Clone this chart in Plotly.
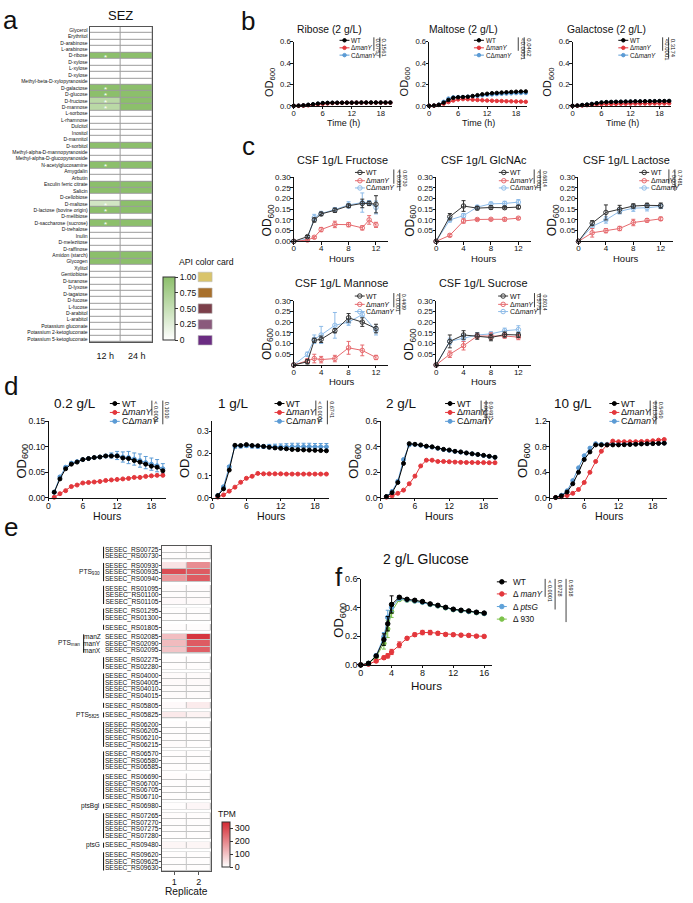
import plotly.graph_objects as go

W, H = 693, 903
FONT = "Liberation Sans, Arial, Helvetica, sans-serif"
INK = "#111111"

# ====================== DATA ======================
api_sugars = ["Glycerol", "Erythritol", "D-arabinose", "L-arabinose", "D-ribose", "D-xylose", "L-xylose",
              "D-xylose", "Methyl-beta-D-xylopyranoside", "D-galactose", "D-glucose", "D-fructose",
              "D-mannose", "L-sorbose", "L-rhamnose", "Dulcitol", "Inositol", "D-mannitol", "D-sorbitol",
              "Methyl-alpha-D-mannopyranoside", "Methyl-alpha-D-glucopyranoside", "N-acetylglucosamine",
              "Amygdalin", "Arbutin", "Esculin ferric citrate", "Salicin", "D-cellobiose", "D-maltose",
              "D-lactose (bovine origin)", "D-melibiose", "D-saccharose (sucrose)", "D-trehalose", "Inulin",
              "D-melezitose", "D-raffinose", "Amidon (starch)", "Glycogen", "Xylitol", "Gentiobiose",
              "D-turanose", "D-lyxose", "D-tagatose", "D-fucose", "L-fucose", "D-arabitol", "L-arabitol",
              "Potassium gluconate", "Potassium 2-ketogluconate", "Potassium 5-ketogluconate"]
api_times = ["12 h", "24 h"]
api_12h = [0, 0, 0, 0, 1, 0, 0, 0, 0, 1,
           1, 0.6, 0.6, 0, 0, 0, 0, 0, 1, 0,
           0, 1, 0, 0, 1, 1, 0, 0.4, 1, 0,
           1, 0, 0, 0, 0, 1, 1, 0, 0, 0,
           0, 0, 0, 0, 0, 0, 0, 0, 0]
api_24h = [0, 0, 0, 0, 1, 0, 0, 0, 0, 1,
           1, 1, 1, 0, 0, 0, 0, 0, 1, 0,
           0, 1, 0, 0, 1, 1, 0, 1, 1, 0,
           1, 0, 0, 0, 0, 1, 1, 0, 0, 0,
           0, 0, 0, 0, 0, 0, 0, 0, 0]
api_star_12h = [0, 0, 0, 0, 1, 0, 0, 0, 0, 1,
                1, 1, 1, 0, 0, 0, 0, 0, 0, 0,
                0, 1, 0, 0, 0, 0, 0, 1, 1, 0,
                1, 0, 0, 0, 0, 0, 0, 0, 0, 0,
                0, 0, 0, 0, 0, 0, 0, 0, 0]
api_card_values = [1.00, 0.75, 0.50, 0.25, 0]
api_card_labels = ["1.00", "0.75", "0.50", "0.25", "0"]
api_card_colors = ["#d9c46b", "#a8702c", "#7b3f4a", "#8a5a7c", "#6b2c82"]

b_time = list(range(0, 21))
ribose_wt = [0, 0.002, 0.005, 0.010, 0.015, 0.021, 0.026, 0.028, 0.029, 0.029, 0.030, 0.030, 0.030, 0.030,
             0.031, 0.031, 0.031, 0.031, 0.031, 0.031, 0.031]
ribose_dm = [0, 0.000, 0.002, 0.005, 0.009, 0.014, 0.019, 0.023, 0.026, 0.027, 0.028, 0.029, 0.029, 0.030,
             0.030, 0.030, 0.030, 0.030, 0.030, 0.030, 0.030]
ribose_cd = [0, 0.002, 0.004, 0.009, 0.014, 0.020, 0.025, 0.027, 0.028, 0.029, 0.029, 0.030, 0.030, 0.030,
             0.030, 0.031, 0.031, 0.031, 0.031, 0.031, 0.031]
maltose_wt = [0, 0.003, 0.010, 0.030, 0.055, 0.075, 0.080, 0.082, 0.085, 0.092, 0.100, 0.108, 0.113, 0.118,
              0.121, 0.124, 0.127, 0.130, 0.132, 0.134, 0.135]
maltose_dm = [0, 0.002, 0.008, 0.020, 0.035, 0.050, 0.060, 0.063, 0.062, 0.058, 0.055, 0.052, 0.050, 0.048,
              0.046, 0.045, 0.043, 0.042, 0.041, 0.040, 0.038]
maltose_cd = [0, 0.003, 0.012, 0.038, 0.068, 0.080, 0.082, 0.083, 0.085, 0.088, 0.093, 0.098, 0.103, 0.107,
              0.110, 0.113, 0.115, 0.117, 0.119, 0.120, 0.121]
galactose_wt = [0, 0.003, 0.008, 0.012, 0.018, 0.025, 0.032, 0.035, 0.037, 0.038, 0.039, 0.040, 0.041, 0.042,
                0.042, 0.043, 0.044, 0.044, 0.045, 0.045, 0.046]
galactose_dm = [0, 0.001, 0.003, 0.006, 0.009, 0.012, 0.015, 0.017, 0.018, 0.019, 0.020, 0.020, 0.021, 0.021,
                0.022, 0.022, 0.022, 0.023, 0.023, 0.023, 0.024]
galactose_cd = [0, 0.002, 0.007, 0.011, 0.017, 0.024, 0.030, 0.033, 0.035, 0.036, 0.037, 0.038, 0.039, 0.040,
                0.040, 0.041, 0.042, 0.042, 0.043, 0.043, 0.044]
b_titles = ["Ribose (2 g/L)", "Maltose (2 g/L)", "Galactose (2 g/L)"]
b_pvalues = [["0.0757", "0.1561"], ["<0.0001", "0.0462"], ["<0.0001", "0.3174"]]

c_time_a = [0, 2, 3, 4, 6, 8, 10, 11, 12]
c_time_b = [0, 2, 4, 6, 8, 10, 12]
c_time_c = [0, 2, 3, 4, 6, 8, 10, 12]
fru_wt = [0, 0.022, 0.100, 0.128, 0.145, 0.166, 0.177, 0.177, 0.173]
fru_dm = [0, 0.006, 0.019, 0.055, 0.079, 0.078, 0.063, 0.100, 0.077]
fru_cd = [0, 0.011, 0.111, 0.130, 0.148, 0.170, 0.181, 0.180, 0.158]
fru_wt_e = [0, 0.005, 0.010, 0.008, 0.010, 0.008, 0.020, 0.010, 0.040]
fru_dm_e = [0, 0.003, 0.005, 0.010, 0.015, 0.010, 0.010, 0.020, 0.012]
fru_cd_e = [0, 0.005, 0.015, 0.010, 0.010, 0.015, 0.045, 0.010, 0.030]
glc_wt = [0, 0.115, 0.165, 0.155, 0.158, 0.157, 0.160]
glc_dm = [0, 0.028, 0.095, 0.102, 0.103, 0.103, 0.108]
glc_cd = [0, 0.100, 0.120, 0.160, 0.175, 0.177, 0.183]
glc_wt_e = [0, 0.015, 0.025, 0.008, 0.008, 0.006, 0.008]
glc_dm_e = [0, 0.006, 0.010, 0.005, 0.005, 0.008, 0.005]
glc_cd_e = [0, 0.010, 0.010, 0.008, 0.008, 0.010, 0.012]
lac_wt = [0, 0.085, 0.135, 0.150, 0.165, 0.168, 0.167]
lac_dm = [0, 0.040, 0.050, 0.060, 0.088, 0.098, 0.105]
lac_cd = [0, 0.070, 0.100, 0.140, 0.155, 0.157, 0.163]
lac_wt_e = [0, 0.012, 0.035, 0.018, 0.010, 0.010, 0.012]
lac_dm_e = [0, 0.020, 0.010, 0.010, 0.015, 0.008, 0.008]
lac_cd_e = [0, 0.010, 0.015, 0.012, 0.015, 0.015, 0.010]
man_wt = [0, 0.015, 0.115, 0.120, 0.160, 0.220, 0.200, 0.170]
man_dm = [0, 0.020, 0.030, 0.025, 0.030, 0.080, 0.068, 0.035]
man_cd = [0, 0.050, 0.120, 0.140, 0.185, 0.200, 0.235, 0.160]
man_wt_e = [0, 0.010, 0.010, 0.015, 0.010, 0.020, 0.020, 0.020]
man_dm_e = [0, 0.010, 0.020, 0.015, 0.015, 0.030, 0.025, 0.010]
man_cd_e = [0, 0.010, 0.020, 0.040, 0.060, 0.015, 0.012, 0.020]
suc_wt = [0, 0.110, 0.140, 0.135, 0.128, 0.142, 0.140]
suc_dm = [0, 0.050, 0.090, 0.135, 0.135, 0.135, 0.130]
suc_cd = [0, 0.110, 0.125, 0.140, 0.145, 0.160, 0.165]
suc_wt_e = [0, 0.030, 0.020, 0.015, 0.015, 0.012, 0.012]
suc_dm_e = [0, 0.015, 0.020, 0.010, 0.015, 0.010, 0.012]
suc_cd_e = [0, 0.015, 0.015, 0.010, 0.010, 0.012, 0.018]
c_titles = ["CSF 1g/L Fructose", "CSF 1g/L GlcNAc", "CSF 1g/L Lactose", "CSF 1g/L Mannose", "CSF 1g/L Sucrose"]
c_pvalues = [["< 0.001", "0.9730"], ["< 0.001", "0.6814"], ["< 0.001", "0.7481"],
             ["< 0.001", "0.4409"], ["0.5775", "0.8014"]]

d_time = list(range(1, 21))
d02_wt = [0.011, 0.037, 0.057, 0.066, 0.070, 0.075, 0.077, 0.079, 0.080, 0.082, 0.082, 0.082, 0.078, 0.077,
          0.073, 0.070, 0.066, 0.062, 0.060, 0.053]
d02_dm = [0.001, 0.008, 0.014, 0.022, 0.025, 0.029, 0.030, 0.031, 0.032, 0.034, 0.035, 0.036, 0.037, 0.038,
          0.040, 0.040, 0.042, 0.043, 0.044, 0.044]
d02_cd = [0.011, 0.041, 0.060, 0.068, 0.071, 0.075, 0.077, 0.079, 0.080, 0.082, 0.083, 0.083, 0.080, 0.079,
          0.076, 0.073, 0.069, 0.066, 0.063, 0.057]
d02_cd_e = [0, 0.002, 0.002, 0.002, 0.002, 0.002, 0.002, 0.002, 0.002, 0.003, 0.005, 0.008, 0.010, 0.012,
            0.012, 0.013, 0.012, 0.012, 0.012, 0.010]
d1_wt = [0.010, 0.040, 0.125, 0.237, 0.236, 0.240, 0.236, 0.235, 0.232, 0.228, 0.225, 0.223, 0.221, 0.218,
         0.217, 0.216, 0.215, 0.214, 0.213, 0.212]
d1_dm = [0.003, 0.013, 0.030, 0.048, 0.070, 0.088, 0.097, 0.110, 0.108, 0.108, 0.108, 0.108, 0.107, 0.107,
         0.107, 0.107, 0.107, 0.107, 0.107, 0.107]
d1_cd = [0.010, 0.050, 0.140, 0.232, 0.233, 0.235, 0.233, 0.232, 0.231, 0.231, 0.230, 0.230, 0.230, 0.231,
         0.231, 0.231, 0.231, 0.230, 0.230, 0.230]
d1_cd_e = [0, 0.003, 0.005, 0.008, 0.008, 0.008, 0.008, 0.008, 0.008, 0.010, 0.012, 0.013, 0.014, 0.015,
           0.015, 0.015, 0.015, 0.015, 0.015, 0.015]
d2_wt = [0.010, 0.040, 0.120, 0.270, 0.425, 0.420, 0.415, 0.405, 0.400, 0.390, 0.380, 0.375, 0.365, 0.360,
         0.352, 0.345, 0.340, 0.333, 0.326, 0.318]
d2_dm = [0.005, 0.015, 0.035, 0.060, 0.110, 0.170, 0.250, 0.295, 0.295, 0.285, 0.285, 0.283, 0.280, 0.278,
         0.277, 0.277, 0.276, 0.276, 0.275, 0.275]
d2_cd = [0.010, 0.050, 0.130, 0.300, 0.415, 0.418, 0.412, 0.403, 0.398, 0.388, 0.379, 0.372, 0.364, 0.358,
         0.351, 0.345, 0.339, 0.332, 0.325, 0.318]
d10_wt = [0.005, 0.030, 0.090, 0.220, 0.400, 0.600, 0.720, 0.830, 0.830, 0.830, 0.830, 0.830, 0.833, 0.836,
          0.840, 0.845, 0.848, 0.850, 0.853, 0.856]
d10_dm = [0.003, 0.015, 0.035, 0.070, 0.130, 0.240, 0.400, 0.570, 0.730, 0.830, 0.890, 0.880, 0.880, 0.880,
          0.880, 0.883, 0.888, 0.895, 0.905, 0.915]
d10_cd = [0.005, 0.040, 0.110, 0.270, 0.470, 0.660, 0.780, 0.850, 0.840, 0.840, 0.840, 0.840, 0.842, 0.845,
          0.848, 0.850, 0.852, 0.855, 0.857, 0.860]
d_titles = ["0.2 g/L", "1 g/L", "2 g/L", "10 g/L"]
d_pvalues = [["< 0.0001", "0.1010"], ["< 0.0001", "0.6741"], ["0.0138", "0.9491"], ["0.0138", "0.5450"]]

e_genes = ["SESEC_RS00725", "SESEC_RS00730", "SESEC_RS00930", "SESEC_RS00935", "SESEC_RS00940",
           "SESEC_RS01095", "SESEC_RS01100", "SESEC_RS01105", "SESEC_RS01295", "SESEC_RS01300",
           "SESEC_RS01805", "SESEC_RS02085", "SESEC_RS02090", "SESEC_RS02095", "SESEC_RS02275",
           "SESEC_RS02280", "SESEC_RS04000", "SESEC_RS04005", "SESEC_RS04010", "SESEC_RS04015",
           "SESEC_RS05805", "SESEC_RS05825", "SESEC_RS06200", "SESEC_RS06205", "SESEC_RS06210",
           "SESEC_RS06215", "SESEC_RS06570", "SESEC_RS06580", "SESEC_RS06585", "SESEC_RS06690",
           "SESEC_RS06700", "SESEC_RS06705", "SESEC_RS06710", "SESEC_RS06980", "SESEC_RS07265",
           "SESEC_RS07270", "SESEC_RS07275", "SESEC_RS07280", "SESEC_RS09480", "SESEC_RS09620",
           "SESEC_RS09625", "SESEC_RS09630"]
e_group = [0, 0, 1, 1, 1, 2, 2, 2, 3, 3, 4, 5, 5, 5, 6, 6, 7, 7, 7, 7, 8, 9, 10, 10, 10, 10,
           11, 11, 11, 12, 12, 12, 12, 13, 14, 14, 14, 14, 15, 16, 16, 16]
e_rep1 = [4, 4, 45, 290, 170, 6, 5, 9, 4, 4, 5, 105, 110, 95, 4, 4, 7, 8, 6, 6, 9, 35, 4, 4, 4, 6,
          3, 3, 3, 3, 3, 3, 3, 4, 3, 3, 3, 3, 15, 4, 4, 4]
e_rep2 = [4, 4, 185, 265, 265, 6, 5, 8, 4, 4, 5, 325, 265, 260, 4, 4, 7, 8, 6, 6, 32, 20, 4, 4, 4, 4,
          3, 3, 3, 3, 3, 3, 3, 14, 3, 3, 3, 3, 15, 4, 4, 4]
e_replicates = [1, 2]
e_group_labels = {1: "PTS<sub>930</sub>", 5: "PTS<sub>man</sub>", 9: "PTS<sub>5825</sub>",
                  13: "ptsBgl", 15: "ptsG"}
e_gene_alias = {"SESEC_RS02085": "manZ", "SESEC_RS02090": "manY", "SESEC_RS02095": "manX"}

f_time = [0, 1, 2, 3, 3.5, 4, 5, 6, 7, 8, 9, 10, 11, 12, 13, 14, 15, 16]
f_wt = [0, 0.011, 0.062, 0.176, 0.286, 0.420, 0.470, 0.456, 0.449, 0.440, 0.424, 0.414, 0.400, 0.387,
        0.380, 0.375, 0.366, 0.360]
f_dm = [0, 0.005, 0.027, 0.050, 0.063, 0.090, 0.140, 0.185, 0.210, 0.225, 0.225, 0.220, 0.212, 0.210,
        0.207, 0.205, 0.200, 0.198]
f_ptsg = [0, 0.010, 0.065, 0.195, 0.330, 0.400, 0.462, 0.452, 0.445, 0.436, 0.421, 0.411, 0.398, 0.385,
          0.378, 0.372, 0.364, 0.358]
f_930 = [0, 0.010, 0.055, 0.150, 0.250, 0.370, 0.455, 0.450, 0.444, 0.435, 0.420, 0.410, 0.397, 0.384,
         0.377, 0.371, 0.363, 0.357]
f_wt_e = [0, 0.003, 0.010, 0.040, 0.050, 0.060, 0.010, 0.008, 0.008, 0.008, 0.008, 0.008, 0.008, 0.008,
          0.008, 0.008, 0.008, 0.008]
f_dm_e = [0, 0.003, 0.010, 0.012, 0.015, 0.018, 0.020, 0.010, 0.012, 0.015, 0.015, 0.012, 0.010, 0.010,
          0.010, 0.010, 0.008, 0.008]
f_ptsg_e = [0, 0.003, 0.010, 0.030, 0.050, 0.030, 0.010, 0.008, 0.008, 0.008, 0.008, 0.008, 0.008, 0.008,
            0.008, 0.008, 0.008, 0.008]
f_930_e = [0, 0.003, 0.010, 0.040, 0.060, 0.040, 0.010, 0.008, 0.008, 0.008, 0.008, 0.008, 0.008, 0.008,
           0.008, 0.008, 0.008, 0.008]
f_names = ["WT", "Δ <i>manY</i>", "Δ <i>ptsG</i>", "Δ 930"]
f_pvalues = ["< 0.0001", "0.9728", "0.5918"]

strain_names = ["WT", "Δ<i>manY</i>", "CΔ<i>manY</i>"]

# ====================== STYLE ======================
WT_C, DM_C, CD_C = "#000000", "#e3373c", "#5b9bd5"
C_WT, C_DM, C_CD = "#333333", "#e66a6e", "#8dbbe8"
F_PTSG, F_930 = "#5fa2d9", "#7cc24a"

fig = go.Figure()
layout_axes = {}
anns = []
shapes = []


def X(px):
    return px / W


def Y(py):
    return 1 - py / H


def axid(n):
    return ("x", "y") if n == 1 else (f"x{n}", f"y{n}")


def axkey(n):
    return ("xaxis", "yaxis") if n == 1 else (f"xaxis{n}", f"yaxis{n}")


def base_axis(fs=8, **kw):
    d = dict(showline=True, linecolor=INK, linewidth=1, ticks="outside", ticklen=3, tickwidth=1,
             tickcolor=INK, showgrid=False, zeroline=False, fixedrange=True,
             tickfont=dict(family=FONT, size=fs, color=INK))
    d.update(kw)
    return d


def ann(text, x, y, size, xanchor="center", yanchor="middle", angle=0, color=INK):
    anns.append(dict(text=text, x=X(x), y=Y(y), xref="paper", yref="paper", xanchor=xanchor,
                     yanchor=yanchor, showarrow=False, textangle=angle,
                     font=dict(family=FONT, size=size, color=color)))


def pline(x0, y0, x1, y1, color=INK, width=1):
    shapes.append(dict(type="line", xref="paper", yref="paper", x0=X(x0), y0=Y(y0), x1=X(x1), y1=Y(y1),
                       line=dict(color=color, width=width)))


def make_plot(n, left, right, top, bottom, xr, yr, xd, yd, yfmt, fs, yvals=None):
    xk, yk = axkey(n)
    xi, yi = axid(n)
    xa = base_axis(fs, domain=[X(left), X(right)], anchor=yi, range=xr, tickmode="linear", tick0=0,
                   dtick=xd, ticklen=2.5, ticklabelstandoff=-3)
    ya = base_axis(fs, domain=[Y(bottom), Y(top)], anchor=xi, range=yr, tickformat=yfmt, ticklen=2.5,
                   ticklabelstandoff=-2)
    if yvals is not None:
        ya.update(tickmode="array", tickvals=yvals, ticktext=[format(v, yfmt) for v in yvals])
    else:
        ya.update(tickmode="linear", tick0=0, dtick=yd)
    layout_axes[xk] = xa
    layout_axes[yk] = ya


def series(n, x, y, color, err=None, symbol="circle", size=4, lw=1):
    xi, yi = axid(n)
    kw = {}
    if err is not None:
        kw["error_y"] = dict(type="data", array=err, color=color, thickness=1, width=2)
    fig.add_trace(go.Scatter(
        x=x, y=y, xaxis=xi, yaxis=yi, mode="lines+markers",
        line=dict(color=color, width=lw),
        marker=dict(color=color, size=size, symbol=symbol, line=dict(color=color, width=1)),
        cliponaxis=False, showlegend=False, hoverinfo="skip", **kw))


OV = 16


def legend_block(names, colors, sym_x, text_x, rows, fs, symbol="circle", msize=4,
                 pvals=(), p_x=(), pfs=5.5):
    xi, yi = axid(OV)
    for name, col, ry in zip(names, colors, rows):
        fig.add_trace(go.Scatter(
            x=[sym_x - 5, sym_x + 5], y=[ry, ry], xaxis=xi, yaxis=yi, mode="lines",
            line=dict(color=col, width=1), showlegend=False, hoverinfo="skip"))
        fig.add_trace(go.Scatter(
            x=[sym_x], y=[ry], xaxis=xi, yaxis=yi, mode="markers",
            marker=dict(color=col, size=msize, symbol=symbol, line=dict(color=col, width=1)),
            showlegend=False, hoverinfo="skip"))
        ann(name, text_x, ry, fs, xanchor="left")
    for i, (pv, px_) in enumerate(zip(pvals, p_x)):
        pline(px_ - 4.5, rows[0] - 3, px_ - 4.5, rows[i + 1] + 3, INK, 0.8)
        ann(pv, px_, rows[0] - 4, pfs, yanchor="top", angle=90)


# ====================== PANEL a ======================
na = len(api_sugars)
rows_idx = list(range(na))
fig.add_trace(go.Heatmap(
    z=[[a, b] for a, b in zip(api_12h, api_24h)], x=[0, 1], y=rows_idx, xaxis="x", yaxis="y",
    zmin=0, zmax=1, colorscale=[[0, "#ffffff"], [1, "#8cbf6b"]], xgap=1, ygap=1, hoverinfo="skip",
    colorbar=dict(x=X(161), xanchor="left", y=Y(339), yanchor="bottom", len=64 / H, lenmode="fraction",
                  thickness=12, thicknessmode="pixels", outlinewidth=1, outlinecolor="#333333",
                  tickmode="array", tickvals=api_card_values, ticktext=api_card_labels, ticks="outside",
                  ticklen=3, tickcolor="#333333", tickfont=dict(family=FONT, size=8.5, color=INK),
                  xpad=0, ypad=0)))
layout_axes["xaxis"] = base_axis(9, domain=[X(87), X(150)], anchor="y", range=[-0.5, 1.5],
                                 tickmode="array", tickvals=[0, 1], ticktext=api_times, ticklen=5,
                                 tickcolor="#ffffff", linecolor="#555555", mirror=True)
layout_axes["yaxis"] = base_axis(5.0, domain=[Y(341), Y(22)], anchor="x", range=[na - 0.5, -0.5],
                                 tickmode="array", tickvals=rows_idx, ticktext=api_sugars, ticks="",
                                 linecolor="#555555", mirror=True)
shapes.append(dict(type="rect", xref="x", yref="y", x0=-0.5, x1=1.5, y0=-0.5, y1=na - 0.5,
                   fillcolor="#9c9c9c", line=dict(width=0), layer="below"))
for i, s in enumerate(api_star_12h):
    if s:
        anns.append(dict(text="*", x=0, y=i, xref="x", yref="y", showarrow=False, yshift=-1.5,
                         font=dict(family=FONT, size=8, color="#ffffff")))
ann("SEZ", 118.5, 11, 13)
ann("API color card", 204, 260, 8.7)
for v, col in zip(api_card_values, api_card_colors):
    cy = 339 - v * 64
    shapes.append(dict(type="rect", xref="paper", yref="paper", x0=X(196), x1=X(210), y0=Y(cy + 4.8),
                       y1=Y(cy - 4.8), fillcolor=col, line=dict(width=0.6, color="#bbbbbb")))

# ====================== PANEL b ======================
b_data = [(ribose_wt, ribose_dm, ribose_cd), (maltose_wt, maltose_dm, maltose_cd),
          (galactose_wt, galactose_dm, galactose_cd)]
b_left = [292, 428, 572]
b_title_x = [327.5, 462.5, 606]
b_sym_x = [343, 478, 623]
b_p_x = [[377, 383], [522, 528], [667, 673]]
for k in range(3):
    n = 2 + k
    L = b_left[k]
    make_plot(n, L, L + 98.5, 37, 102, [0, 20.3], [0, 0.6], 6, 0.2, ".1f", 7.7)
    wt, dm, cd = b_data[k]
    series(n, b_time, cd, CD_C, size=3.5)
    series(n, b_time, dm, DM_C, size=3.5)
    series(n, b_time, wt, WT_C, size=3.5)
    ann(b_titles[k], b_title_x[k], 25, 10.3)
    ann("Time (h)", L + 50, 119, 9)
    ann("OD<sub>600</sub>", L - 24, 78, 11, angle=-90)
    legend_block(strain_names, [WT_C, DM_C, CD_C], b_sym_x[k], b_sym_x[k] + 5, [35.7, 43.3, 50.7], 6.3,
                 msize=3.5, pvals=b_pvalues[k], p_x=b_p_x[k], pfs=6)

# ====================== PANEL c ======================
c_data = [(c_time_a, fru_wt, fru_dm, fru_cd, fru_wt_e, fru_dm_e, fru_cd_e),
          (c_time_b, glc_wt, glc_dm, glc_cd, glc_wt_e, glc_dm_e, glc_cd_e),
          (c_time_b, lac_wt, lac_dm, lac_cd, lac_wt_e, lac_dm_e, lac_cd_e),
          (c_time_c, man_wt, man_dm, man_cd, man_wt_e, man_dm_e, man_cd_e),
          (c_time_b, suc_wt, suc_dm, suc_cd, suc_wt_e, suc_dm_e, suc_cd_e)]
c_left = [292, 435, 578, 292, 435]
c_top = [174, 174, 174, 299, 299]
c_title_x = [340.8, 483.3, 625.8, 340, 482.8]
c_sym_x = [358.5, 503, 644, 358.3, 502.3]
c_p_x = [[397, 403], [538, 544], [673.3, 679.3], [397, 403], [538.3, 544]]
for k in range(5):
    n = 5 + k
    L, T = c_left[k], c_top[k]
    yt = [0, 0.05, 0.10, 0.15, 0.20, 0.25, 0.30] if k == 0 else [0.05, 0.10, 0.15, 0.20, 0.25, 0.30]
    make_plot(n, L, L + 95, T, T + 65, [0, 13.8], [0, 0.30], 4, 0.05, ".2f", 8, yvals=yt)
    t, wt, dm, cd, we, de, ce = c_data[k]
    series(n, t, cd, C_CD, ce, symbol="circle-open", size=4.5)
    series(n, t, dm, C_DM, de, symbol="circle-open", size=4.5)
    series(n, t, wt, C_WT, we, symbol="circle-open", size=4.5)
    ann(c_titles[k], c_title_x[k], T - 17.5, 10.9)
    ann("Hours", L + 48, T + 82, 9.5)
    ann("OD<sub>600</sub>", L - 26, T + 44, 12, angle=-90)
    rows = [T - 4.7, T + 3.7, T + 11]
    legend_block(strain_names, [C_WT, C_DM, C_CD], c_sym_x[k], c_sym_x[k] + 4.5, rows, 7,
                 symbol="circle-open", msize=4.5, pvals=c_pvalues[k], p_x=c_p_x[k], pfs=5.3)

# ====================== PANEL d ======================
d_data = [(d02_wt, d02_dm, d02_cd, d02_cd_e), (d1_wt, d1_dm, d1_cd, d1_cd_e),
          (d2_wt, d2_dm, d2_cd, None), (d10_wt, d10_dm, d10_cd, None)]
d_left = [45.7, 210, 379.3, 549.3]
d_yr = [[0, 0.15], [0, 0.345], [0, 0.6], [0, 1.2]]
d_yd = [0.05, 0.1, 0.2, 0.4]
d_fmt = [".2f", ".1f", ".1f", ".1f"]
d_title_x = [72.8, 232, 400.3, 572.5]
d_sym_x = [112.3, 277.7, 449, 614]
d_p_x = [[154, 165], [318.7, 330.3], [484.7, 489.7], [654.5, 660.3]]
for k in range(4):
    n = 10 + k
    L = d_left[k]
    make_plot(n, L, L + 117.7, 421, 498.3, [0, 20.5], d_yr[k], 6, d_yd[k], d_fmt[k], 8.6)
    wt, dm, cd, ce = d_data[k]
    series(n, d_time, cd, CD_C, ce, size=4)
    series(n, d_time, dm, DM_C, size=4)
    series(n, d_time, wt, WT_C, size=4)
    ann(d_titles[k], d_title_x[k], 403, 13.5)
    ann("Hours", L + 59, 517, 10.6)
    ann("OD<sub>600</sub>", L - 26, 461, 13, angle=-90)
    legend_block(strain_names, [WT_C, DM_C, CD_C], d_sym_x[k], d_sym_x[k] + 4.8, [403, 412, 421], 9,
                 msize=4, pvals=d_pvalues[k], p_x=d_p_x[k], pfs=5.5)

# ====================== PANEL e ======================
GAP = 0.45
edges = [0.0]
zrows = []
centers = []
spans = {}
prev = None
for i, g in enumerate(e_group):
    if prev is not None and g != prev:
        edges.append(edges[-1] + GAP)
        zrows.append([None, None])
    start = edges[-1]
    edges.append(start + 1)
    zrows.append([e_rep1[i], e_rep2[i]])
    centers.append(start + 0.5)
    spans.setdefault(g, [start, start + 1])
    spans[g][1] = start + 1
    prev = g
fig.add_trace(go.Heatmap(
    z=zrows, x=[0.5, 1.5, 2.5], y=edges, xaxis="x14", yaxis="y14", zmin=0, zmax=345,
    colorscale=[[0, "#ffffff"], [1, "#d42a33"]], xgap=1, ygap=1, hoverinfo="skip",
    colorbar=dict(x=X(220), xanchor="left", y=Y(872), yanchor="bottom", len=46 / H, lenmode="fraction",
                  thickness=8, thicknessmode="pixels", outlinewidth=1, outlinecolor="#333333",
                  tickmode="array", tickvals=[0, 100, 200, 300], ticks="outside", ticklen=3,
                  tickcolor="#333333", tickfont=dict(family=FONT, size=9, color=INK), xpad=0, ypad=0)))
layout_axes["xaxis14"] = base_axis(9, domain=[X(159.5), X(209)], anchor="y14", range=[0.5, 2.5],
                                   tickmode="array", tickvals=e_replicates,
                                   ticktext=[str(r) for r in e_replicates], ticklen=3,
                                   linecolor="#555555", mirror=True, tickcolor="#555555",
                                   ticklabelstandoff=-1)
layout_axes["yaxis14"] = base_axis(6.6, domain=[Y(876), Y(547)], anchor="x14", range=[edges[-1], 0],
                                   tickmode="array", tickvals=centers, ticktext=e_genes, ticklen=2,
                                   linecolor="#555555", mirror=True, tickcolor="#555555",
                                   ticklabelstandoff=-1)
for g, (s0, s1) in spans.items():
    shapes.append(dict(type="rect", xref="x14", yref="y14", x0=0.5, x1=2.5, y0=s0, y1=s1,
                       fillcolor="#c4c4c4", line=dict(width=0), layer="below"))
    bx = 81 if g == 5 else 101
    shapes.append(dict(type="line", xref="paper", yref="y14", x0=X(bx), x1=X(bx), y0=s0 + 0.12,
                       y1=s1 - 0.12, line=dict(color=INK, width=1)))
    if g in e_group_labels:
        right = 79.5 if g == 5 else 99.5
        anns.append(dict(text=e_group_labels[g], x=X(right), y=(s0 + s1) / 2, xref="paper", yref="y14",
                         xanchor="right", yanchor="middle", showarrow=False,
                         font=dict(family=FONT, size=6.6, color=INK)))
for gene, c in zip(e_genes, centers):
    if gene in e_gene_alias:
        anns.append(dict(text=e_gene_alias[gene], x=X(100.5), y=c, xref="paper", yref="y14",
                         xanchor="right", yanchor="middle", showarrow=False,
                         font=dict(family=FONT, size=6.6, color=INK)))
ann("Replicate", 184, 896, 10.2)
ann("TPM", 224.7, 818, 8.5)

# ====================== PANEL f ======================
make_plot(15, 359.3, 491, 580, 667.3, [0, 17], [0, 0.6], 4, 0.2, ".1f", 9)
series(15, f_time, f_930, F_930, f_930_e, size=4.5)
series(15, f_time, f_ptsg, F_PTSG, f_ptsg_e, size=4.5)
series(15, f_time, f_dm, DM_C, f_dm_e, size=4.5)
series(15, f_time, f_wt, WT_C, f_wt_e, size=4.5)
ann("2 g/L Glucose", 425, 560, 14)
ann("Hours", 425, 688, 11.6)
ann("OD<sub>600</sub>", 338, 622, 13, angle=-90)
legend_block(f_names, [WT_C, DM_C, F_PTSG, F_930], 501, 510, [583.3, 595.5, 608.3, 621], 8.3,
             msize=4.5, pvals=f_pvalues, p_x=[549, 559, 570], pfs=5.5)

# ====================== panel letters ======================
ann("a", 7.5, 15.2, 26)
ann("b", 246.3, 15.8, 26)
ann("c", 246.5, 142.5, 26)
ann("d", 8, 385, 26)
ann("e", 8, 528, 26)
ann("f", 337, 578, 26)

layout_axes["xaxis16"] = dict(domain=[0, 1], range=[0, W], visible=False, anchor="y16", fixedrange=True)
layout_axes["yaxis16"] = dict(domain=[0, 1], range=[H, 0], visible=False, anchor="x16", fixedrange=True)

fig.update_layout(
    width=W, height=H, autosize=False, margin=dict(l=0, r=0, t=0, b=0, pad=0),
    paper_bgcolor="#ffffff", plot_bgcolor="rgba(0,0,0,0)", showlegend=False,
    font=dict(family=FONT, color=INK), annotations=anns, shapes=shapes, **layout_axes)

fig.write_html("out.html")
